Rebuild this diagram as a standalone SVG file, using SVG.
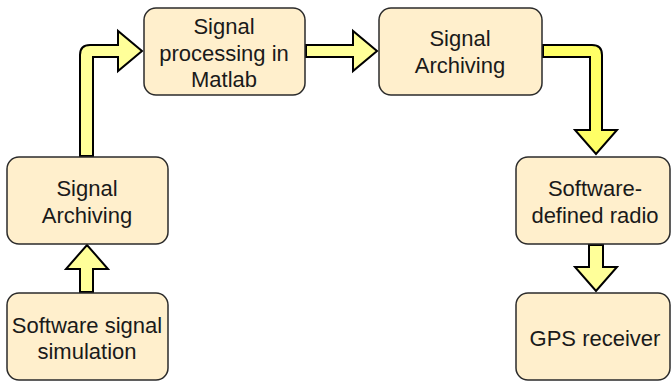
<svg xmlns="http://www.w3.org/2000/svg" width="672" height="381" viewBox="0 0 672 381">
<style>
.box{fill:#FFEFCC;stroke:#2b2b2b;stroke-width:1.5}
.t{font-family:"Liberation Sans",Arial,sans-serif;font-size:22px;fill:#1a1a1a;text-anchor:middle}
.arr{fill:#FFFF99;stroke:#000;stroke-width:2;stroke-linejoin:miter}
.arr2{fill:#FFFF66;stroke:#000;stroke-width:2;stroke-linejoin:miter}
</style>
<rect width="672" height="381" fill="#fff"/>
<g id="connectors">
<path class="arr" d="M80 156 L80 55 Q80 45 90 45 L118 45 L118 31 L142 51 L118 71 L118 57 L93 57 L93 156 Z"/>
<path class="arr" d="M306 45 L353 45 L353 31 L377 51 L353 71 L353 57 L306 57 Z"/>
<path class="arr2" d="M543 45 L592 45 Q602 45 602 55 L602 130 L617 130 L596 154 L575 130 L590 130 L590 57 L543 57 Z"/>
<path class="arr" d="M80 292 L80 269 L66 269 L87 245 L108 269 L93 269 L93 292 Z"/>
<path class="arr" d="M589 245 L589 267 L575 267 L596 291 L617 267 L603 267 L603 245 Z"/>
</g>
<g id="matlab">
<rect class="box" x="144" y="8" width="161" height="87" rx="12"/>
<text class="t" x="224" y="34">Signal</text>
<text class="t" x="224" y="61">processing in</text>
<text class="t" x="224" y="87">Matlab</text>
</g>
<g id="archiving-right">
<rect class="box" x="379" y="8" width="163" height="87" rx="12"/>
<text class="t" x="460" y="46">Signal</text>
<text class="t" x="460" y="72.5">Archiving</text>
</g>
<g id="archiving-left">
<rect class="box" x="7" y="157" width="161" height="87" rx="12"/>
<text class="t" x="87" y="196">Signal</text>
<text class="t" x="87" y="222.5">Archiving</text>
</g>
<g id="simulation">
<rect class="box" x="7" y="293" width="161" height="87" rx="12"/>
<text class="t" x="87" y="333">Software signal</text>
<text class="t" x="87" y="359">simulation</text>
</g>
<g id="sdr">
<rect class="box" x="516" y="157" width="154" height="87" rx="12"/>
<text class="t" x="595" y="196">Software-</text>
<text class="t" x="595" y="222.5">defined radio</text>
</g>
<g id="gps">
<rect class="box" x="516" y="293" width="154" height="87" rx="12"/>
<text class="t" x="595" y="346">GPS receiver</text>
</g>
</svg>
